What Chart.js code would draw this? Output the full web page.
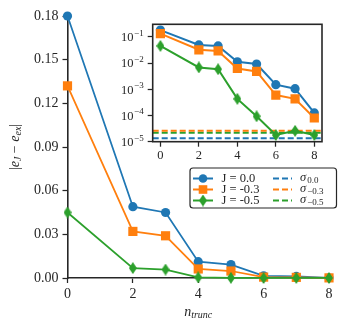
<!DOCTYPE html>
<html>
<head>
<meta charset="utf-8">
<script src="https://cdn.jsdelivr.net/npm/chart.js@4.4.0/dist/chart.umd.min.js"></script>
<style>
  body { margin: 0; background: #fff; }
  #wrap { position: relative; width: 347px; height: 332px; }
  #mainChart { position: absolute; left: 0; top: 0; }
  #insetChart { position: absolute; left: 110px; top: 10px; }
</style>
</head>
<body>
<div id="wrap">
  <canvas id="mainChart" width="347" height="332"></canvas>
  <canvas id="insetChart" width="225" height="160"></canvas>
</div>
<script>
// Data
const nTrunc = [0, 2, 3, 4, 5, 6, 7, 8];
const errJ00 = [0.18, 0.049, 0.045, 0.0112, 0.0092, 0.0015, 0.00105, 0.000125];
const errJ03 = [0.132, 0.032, 0.029, 0.0062, 0.0048, 0.0006, 0.00043, 0.00008];
const errJ05 = [0.045, 0.0068, 0.0058, 0.00043, 0.000093, 0.000018, 0.000026, 0.000018];
const sigmaLabels = ['0.0', '−0.3', '−0.5'];
const sigmaValues = [1.35e-5, 2.6e-5, 2.2e-5];
const seriesLabels = ['J = 0.0', 'J = -0.3', 'J = -0.5'];
const mainYTicks = [0, 0.03, 0.06, 0.09, 0.12, 0.15, 0.18];
const xTicks = [0, 2, 4, 6, 8];
const insetYTicks = [1e-5, 1e-4, 1e-3, 1e-2, 1e-1];
const insetYExp = ['−5', '−4', '−3', '−2', '−1'];

const COLORS = ['#1f77b4', '#ff7f0e', '#2ca02c'];
const AXIS = '#262626';
const SERIF = "'Liberation Serif', 'DejaVu Serif', serif";

// thin diamond marker (matplotlib 'd')
function thinDiamond(color) {
    const c = document.createElement('canvas');
    c.width = 8; c.height = 12;
    const g = c.getContext('2d');
    g.fillStyle = color;
    g.beginPath();
    g.moveTo(4, 0); g.lineTo(8, 6); g.lineTo(4, 12); g.lineTo(0, 6);
    g.closePath();
    g.fill();
    return c;
}
const diamond = thinDiamond(COLORS[2]);
const markers = ['circle', 'rect', diamond];
const radii = [4.6, 6.5, 5];

function points(ys) {
    return nTrunc.map((x, i) => ({ x: x, y: ys[i] }));
}

function seriesDatasets(lineWidth, clip) {
    return [errJ00, errJ03, errJ05].map((ys, i) => ({
        label: seriesLabels[i],
        data: points(ys),
        borderColor: COLORS[i],
        backgroundColor: COLORS[i],
        borderWidth: lineWidth,
        pointStyle: markers[i],
        pointRadius: radii[i],
        pointBorderWidth: 0,
        pointBackgroundColor: COLORS[i],
        tension: 0,
        clip: clip,
        order: 3 - i
    }));
}

function drawSubText(ctx, parts, x, y) {
    // parts: [text, isSub, italic]
    let cx = x;
    parts.forEach(p => {
        const size = p[1] ? 10 : 14;
        ctx.font = (p[2] ? 'italic ' : '') + size + 'px ' + SERIF;
        ctx.fillText(p[0], cx, y + (p[1] ? 3.5 : 0));
        cx += ctx.measureText(p[0]).width;
    });
    return cx - x;
}
function measureSub(ctx, parts) {
    let w = 0;
    parts.forEach(p => {
        ctx.font = (p[2] ? 'italic ' : '') + (p[1] ? 10 : 14) + 'px ' + SERIF;
        w += ctx.measureText(p[0]).width;
    });
    return w;
}

const mainDecor = {
    id: 'mainDecor',
    afterDraw(chart) {
        const ctx = chart.ctx;
        const area = chart.chartArea;
        ctx.save();
        ctx.fillStyle = AXIS;
        ctx.textBaseline = 'middle';
        ctx.textAlign = 'left';

        // x label n_trunc
        const xParts = [['n', false, true], ['trunc', true, true]];
        const xw = measureSub(ctx, xParts);
        drawSubText(ctx, xParts, (area.left + area.right) / 2 - xw / 2, 312);

        // y label |e_J - e_ex|
        const yParts = [['|', false, false], ['e', false, true], ['J', true, true],
                        [' − ', false, false], ['e', false, true], ['ex', true, true], ['|', false, false]];
        const yw = measureSub(ctx, yParts);
        ctx.save();
        ctx.translate(15, (area.top + area.bottom) / 2);
        ctx.rotate(-Math.PI / 2);
        drawSubText(ctx, yParts, -yw / 2, 0);
        ctx.restore();

        // legend
        const bx = 190, by = 168, bw = 146.5, bh = 40;
        ctx.beginPath();
        ctx.roundRect(bx, by, bw, bh, 3);
        ctx.fillStyle = '#fff';
        ctx.fill();
        ctx.lineWidth = 1.2;
        ctx.strokeStyle = AXIS;
        ctx.stroke();

        const rows = [178.5, 189.5, 200.5];
        rows.forEach((ry, i) => {
            ctx.strokeStyle = COLORS[i];
            ctx.fillStyle = COLORS[i];
            ctx.lineWidth = 2;
            ctx.setLineDash([]);
            ctx.beginPath();
            ctx.moveTo(193, ry); ctx.lineTo(213, ry);
            ctx.stroke();
            if (i === 0) {
                ctx.beginPath(); ctx.arc(203, ry, 4.3, 0, Math.PI * 2); ctx.fill();
            } else if (i === 1) {
                ctx.fillRect(203 - 4.3, ry - 4.3, 8.6, 8.6);
            } else {
                ctx.drawImage(diamond, 203 - 4, ry - 6);
            }
            // dashed sigma handle
            ctx.lineWidth = 2;
            ctx.setLineDash([6, 3]);
            ctx.beginPath();
            ctx.moveTo(273, ry); ctx.lineTo(292, ry);
            ctx.stroke();
            ctx.setLineDash([]);

            ctx.fillStyle = AXIS;
            ctx.font = '12.5px ' + SERIF;
            ctx.fillText(seriesLabels[i], 221.5, ry);
            ctx.font = 'italic 12.5px ' + SERIF;
            ctx.fillText('σ', 300, ry - 1);
            const sw = ctx.measureText('σ').width;
            ctx.font = '9px ' + SERIF;
            ctx.fillText(sigmaLabels[i], 300 + sw + 1, ry + 2.5);
        });
        ctx.restore();
    }
};

new Chart(document.getElementById('mainChart'), {
    type: 'line',
    data: { datasets: seriesDatasets(1.75, false) },
    options: {
        responsive: false,
        animation: false,
        layout: { padding: { top: 16, right: 18, left: 0, bottom: 0 } },
        plugins: { legend: { display: false }, tooltip: { enabled: false } },
        scales: {
            x: {
                type: 'linear', min: 0, max: 8,
                afterFit: s => { s.height = 54; },
                afterBuildTicks: s => { s.ticks = xTicks.map(v => ({ value: v })); },
                grid: { display: true, drawOnChartArea: false, tickLength: 5, tickColor: AXIS, tickWidth: 1.25 },
                border: { color: AXIS, width: 1.6 },
                ticks: { color: AXIS, font: { family: SERIF, size: 14 }, padding: 3, maxRotation: 0 }
            },
            y: {
                type: 'linear', min: 0, max: 0.18,
                afterFit: s => { s.width = 67.5; },
                afterBuildTicks: s => { s.ticks = mainYTicks.map(v => ({ value: v })); },
                grid: { display: true, drawOnChartArea: false, tickLength: 5, tickColor: AXIS, tickWidth: 1.25 },
                border: { color: AXIS, width: 1.6 },
                ticks: { color: AXIS, font: { family: SERIF, size: 14 }, padding: 4,
                         callback: v => v.toFixed(2) }
            }
        }
    },
    plugins: [mainDecor]
});

// inset frame and 10^n labels with a real superscript
const insetBox = {
    id: 'insetBox',
    afterDraw(chart) {
        const a = chart.chartArea;
        const ctx = chart.ctx;
        const y = chart.scales.y;
        ctx.save();
        ctx.strokeStyle = AXIS;
        ctx.lineWidth = 1.6;
        ctx.strokeRect(a.left, a.top, a.right - a.left, a.bottom - a.top);

        ctx.fillStyle = AXIS;
        ctx.textBaseline = 'middle';
        ctx.textAlign = 'right';
        const right = a.left - 9;
        insetYTicks.forEach((v, i) => {
            const py = y.getPixelForValue(v);
            ctx.font = '9px ' + SERIF;
            const ew = ctx.measureText(insetYExp[i]).width;
            ctx.fillText(insetYExp[i], right, py - 3.5);
            ctx.font = '12.5px ' + SERIF;
            ctx.fillText('10', right - ew - 0.5, py + 1);
        });
        ctx.restore();
    }
};

const sigmaDatasets = sigmaValues.map((v, i) => ({
    label: 'sigma ' + sigmaLabels[i],
    data: [{ x: -0.4, y: v }, { x: 8.4, y: v }],
    borderColor: COLORS[i],
    borderWidth: 2,
    borderDash: [6, 3],
    pointRadius: 0,
    order: 10
}));

new Chart(document.getElementById('insetChart'), {
    type: 'line',
    data: { datasets: seriesDatasets(2, true).concat(sigmaDatasets) },
    options: {
        responsive: false,
        animation: false,
        layout: { padding: { top: 14.3, right: 13, left: 0, bottom: 0 } },
        plugins: { legend: { display: false }, tooltip: { enabled: false } },
        scales: {
            x: {
                type: 'linear', min: -0.4, max: 8.4,
                afterFit: s => { s.height = 28.3; },
                afterBuildTicks: s => { s.ticks = xTicks.map(v => ({ value: v })); },
                grid: { display: true, drawOnChartArea: false, tickLength: 5, tickColor: AXIS, tickWidth: 1.25 },
                border: { display: false },
                ticks: { color: AXIS, font: { family: SERIF, size: 12.5 }, padding: 2, maxRotation: 0 }
            },
            y: {
                type: 'logarithmic', min: 1e-5, max: 0.3,
                afterFit: s => { s.width = 42.7; },
                afterBuildTicks: s => { s.ticks = insetYTicks.map(v => ({ value: v })); },
                grid: { display: true, drawOnChartArea: false, tickLength: 5, tickColor: AXIS, tickWidth: 1.25 },
                border: { display: false },
                ticks: { color: AXIS, font: { family: SERIF, size: 12 }, padding: 3,
                         callback: () => '' }
            }
        }
    },
    plugins: [insetBox]
});
</script>
</body>
</html>
